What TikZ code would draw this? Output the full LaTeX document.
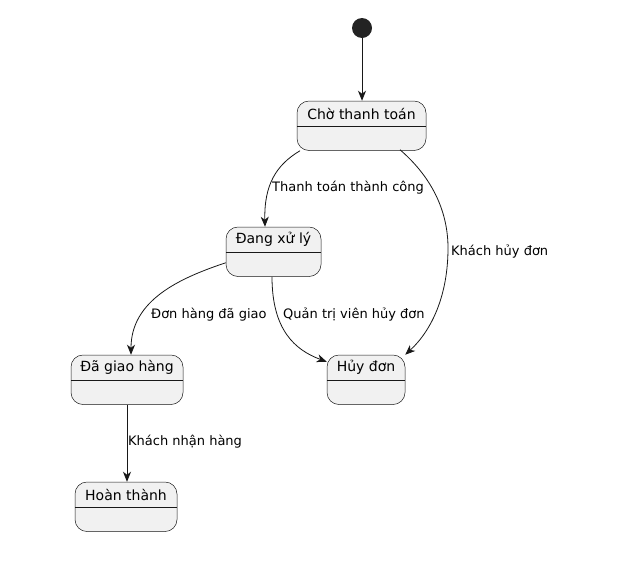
\documentclass[tikz,border=0pt]{standalone}
\usepackage{fontspec}
\setmainfont{DejaVu Sans}
\usepackage{tikz}
\usetikzlibrary{calc}
\usetikzlibrary{arrows.meta}
\definecolor{umlfill}{HTML}{F1F1F1}
\definecolor{umlline}{HTML}{181818}
\tikzset{
  statebox/.style={draw=umlline, line width=0.5pt, fill=umlfill, rounded corners=12pt,
    minimum height=49.5pt, inner sep=0pt},
  stateline/.style={draw=umlline, line width=0.5pt},
  statename/.style={font=\fontsize{14}{16}\selectfont, inner sep=0pt},
  trans/.style={draw=umlline, line width=0.8pt, -{Stealth[length=10pt,width=8pt,inset=3pt]}},
  translabel/.style={font=\fontsize{13}{15}\selectfont, anchor=west, inner sep=0pt}
}
% name, centre x, top y, width, text
\newcommand{\mkstate}[5]{\node[statebox, minimum width=#4] (#1) at (#2,{#3-24.75}) {};
  \draw[stateline] ($(#1.north west)+(0,-25.5)$) -- ($(#1.north east)+(0,-25.5)$);
  \node[statename] (#1-name) at ($(#1.north)+(0,-13)$) {#5};}

\begin{document}
\begin{tikzpicture}[x=1pt,y=1pt]
    \useasboundingbox (0,0) rectangle (636,-579);
    \fill[umlline!95] (362,-28) circle (10) node (start) [circle, minimum size=20pt, inner sep=0pt] {};
    %states
    \mkstate{cho}{361.5}{-101}{129}{Chờ thanh toán}
    \mkstate{dang}{273.5}{-227}{95}{Đang xử lý}
    \mkstate{huy}{366}{-355}{78}{Hủy đơn}
    \mkstate{da}{127}{-355}{112}{Đã giao hàng}
    \mkstate{hoan}{126}{-482}{102}{Hoàn thành}
    %transitions
    \draw[trans] (start.south) -- (start.south |- cho.north);
    \draw[trans] ($(cho.south)+(-61.5,0)$) .. controls (276,-165) and (264,-185) .. ($(dang.north)+(-8.5,0)$);
    \draw[trans] ($(cho.south)+(38.5,1)$) .. controls (435,-180) and (448,-215) .. (448,-248)
        .. controls (448,-295) and (432,-330) .. (huy.north east);
    \draw[trans] ($(dang.west)+(0,-11)$) .. controls (180,-278) and (131,-300) .. ($(da.north)+(4,0)$);
    \draw[trans] ($(dang.south)+(-1.5,0)$) .. controls (272,-330) and (295,-350) .. ($(huy.north west)+(0,-7)$);
    \draw[trans] (da.south) -- (da.south |- hoan.north);
    %labels
    \node[translabel] (l1) at (272,-188) {Thanh toán thành công};
    \node[translabel] (l2) at (451,-252) {Khách hủy đơn};
    \node[translabel] (l3) at (151,-315) {Đơn hàng đã giao};
    \node[translabel] (l4) at (283,-315) {Quản trị viên hủy đơn};
    \node[translabel] (l5) at (128,-442) {Khách nhận hàng};
\end{tikzpicture}
\end{document}
